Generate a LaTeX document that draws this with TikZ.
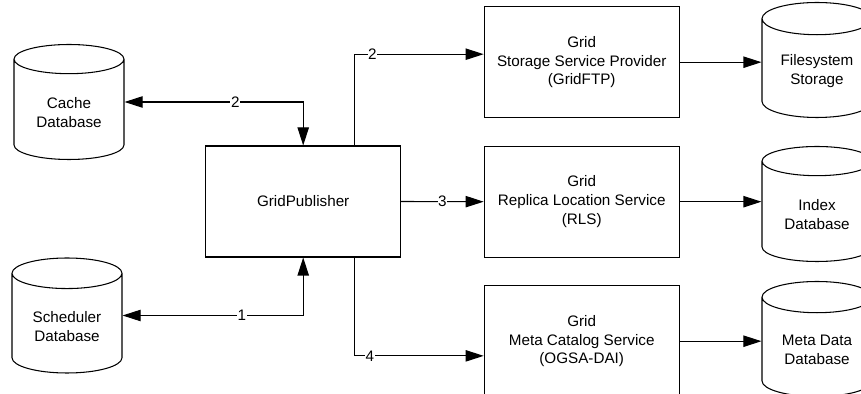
\documentclass[tikz,border=0pt]{standalone}
\usepackage{fontspec}
\setmainfont{Liberation Sans}
\usetikzlibrary{shapes.geometric,arrows.meta}
\tikzset{
  service/.style={draw, minimum width=5.85cm, minimum height=3.33cm, align=center},
  dbase/.style={draw, cylinder, shape border rotate=90, aspect=0.4, minimum width=3.3cm, minimum height=3.45cm, align=center, anchor=shape center},
  num/.style={fill=white, inner sep=0.5pt},
}
\begin{document}
\begin{tikzpicture}[x=0.03cm, y=0.03cm, line width=0.9pt, font=\fontsize{13}{16}\selectfont,
  >={Triangle[length=0.54cm, width=0.34cm]}]
	  \clip (0,0) rectangle (861,394);
	  \node [service] at (303.2,192.5) (pub) {GridPublisher};
	  \node [dbase] at (69,292) (cache) {Cache\\Database};
	  \node [dbase] at (67,78.5) (sched) {Scheduler\\Database};
	  \foreach \n/\y/\t in {gsp/331.8/{Grid\\Storage Service Provider\\(GridFTP)}, rls/192.3/{Grid\\Replica Location Service\\(RLS)}, mcs/52.8/{Grid\\Meta Catalog Service\\(OGSA-DAI)}}{
	  	\node [service] at (581.7,\y) (\n) {\t};
	  }
	  \foreach \n/\y/\t in {fs/334/{Filesystem\\Storage}, idx/190/{Index\\Database}, meta/55/{Meta Data\\Database}}{
	  	\node [dbase] at (817,\y) (\n) {\t};
	  }
	  \foreach \i/\j in {gsp/fs, rls/idx, mcs/meta}{
	  	\draw [->] (\i.east) -- (\i.east -| \j.west);
	  }
	\draw [<->] (cache.shape center -| cache.east) -| node [num, pos=0.31] {2} (pub.north);
	\draw [<->] (sched.shape center -| sched.east) -| node [num, pos=0.33] {1} (pub.south);
	\draw [->] ([xshift=1.53cm]pub.north) |- node [num, pos=0.57] {2} ([yshift=0.24cm]gsp.west);
	\draw [->] (pub.east) -- node [num] {3} (rls.west);
	\draw [->] ([xshift=1.53cm]pub.south) |- node [num, pos=0.56] {4} ([yshift=-0.44cm]mcs.west);
	\end{tikzpicture}
\end{document}
